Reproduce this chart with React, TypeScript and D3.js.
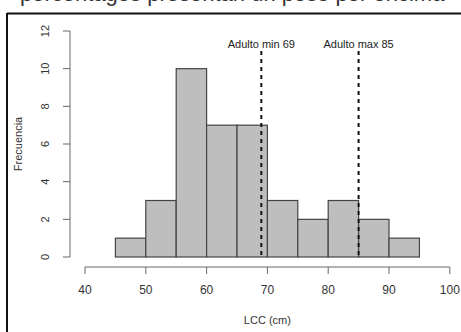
import React from "react"
import { scaleLinear } from "d3"

const binEdges = [45, 50, 55, 60, 65, 70, 75, 80, 85, 90, 95]
const counts = [1, 3, 10, 7, 7, 3, 2, 3, 2, 1]
const refValues = [69, 85]
const refLabels = ["Adulto min 69", "Adulto max 85"]
const xTicks = [40, 50, 60, 70, 80, 90, 100]
const yTicks = [0, 2, 4, 6, 8, 10, 12]

const width = 461
const height = 332
const font = "'Liberation Sans', Arial, sans-serif"

function App() {
  const xScale = scaleLinear().domain([40, 100]).range([85, 449.8])
  const yScale = scaleLinear().domain([0, 12]).range([257, 31])

  return (
    <svg width={width} height={height} style={{ position: "absolute", left: 0, top: 0, background: "#fff" }}>
      {/* cut-off caption line from the page above */}
      <text x={20} y={1} fontSize={22} fontFamily={font} fill="#333">
        porcentages presentan un peso por encima
      </text>
      {/* frame */}
      <line x1={7} x2={width} y1={13.5} y2={13.5} stroke="#111" strokeWidth={2} />
      <line x1={7} x2={7} y1={13} y2={height} stroke="#111" strokeWidth={2} />

      {counts.map((c, i) => (
        <rect
          key={i}
          x={xScale(binEdges[i])}
          y={yScale(c)}
          width={xScale(binEdges[i + 1]) - xScale(binEdges[i])}
          height={yScale(0) - yScale(c)}
          fill="#bebebe"
          stroke="#444"
          strokeWidth={1.2}
        />
      ))}

      {refValues.map((v, i) => (
        <g key={i}>
          <line
            x1={xScale(v)}
            x2={xScale(v)}
            y1={51}
            y2={yScale(0)}
            stroke="#111"
            strokeWidth={2}
            strokeDasharray="4,4"
          />
          <text x={xScale(v)} y={48} textAnchor="middle" fontSize={11} fontFamily={font} fill="#222">
            {refLabels[i]}
          </text>
        </g>
      ))}

      {/* x axis */}
      <line x1={xScale(40)} x2={xScale(100)} y1={267} y2={267} stroke="#666" />
      {xTicks.map(t => (
        <g key={t} transform={`translate(${xScale(t)}, 267)`}>
          <line y2={7} stroke="#666" />
          <text y={27} textAnchor="middle" fontSize={12} fontFamily={font} fill="#333">{t}</text>
        </g>
      ))}
      <text x={xScale(70)} y={324} textAnchor="middle" fontSize={11} fontFamily={font} fill="#333">LCC (cm)</text>

      {/* y axis */}
      <line x1={70} x2={70} y1={yScale(0)} y2={yScale(12)} stroke="#666" />
      {yTicks.map(t => (
        <g key={t} transform={`translate(70, ${yScale(t)})`}>
          <line x2={-7} stroke="#666" />
          <text transform="translate(-21, 0) rotate(-90)" textAnchor="middle" fontSize={11} fontFamily={font} fill="#333">{t}</text>
        </g>
      ))}
      <text
        transform={`translate(22, ${yScale(6)}) rotate(-90)`}
        textAnchor="middle"
        fontSize={11}
        fontFamily={font}
        fill="#333"
      >Frecuencia</text>
    </svg>
  )
}

export default App
